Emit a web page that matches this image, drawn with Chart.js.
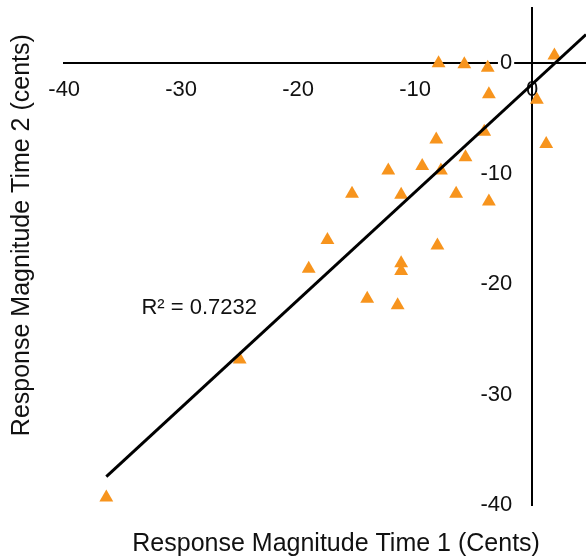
<!DOCTYPE html>
<html>
<head>
<meta charset="utf-8">
<script src="https://cdn.jsdelivr.net/npm/chart.js@4.4.1/dist/chart.umd.min.js"></script>
<style>
html,body{margin:0;padding:0;background:#fff;overflow:hidden}
#c{display:block}
</style>
</head>
<body>
<canvas id="c" width="586" height="559"></canvas>
<script>
// ---- data ----
const time1 = [-8.0, -5.8, -3.8, -3.7, 1.9, 0.4, -8.2, -4.1, 1.2, -5.7, -12.3, -9.4, -7.8,
               -15.4, -11.2, -6.5, -3.7, -17.5, -8.1, -19.1, -11.2, -11.2, -14.1, -11.5, -25.0, -36.4];
const time2 = [0.0, -0.1, -0.4, -2.8, 0.7, -3.3, -6.9, -6.2, -7.3, -8.5, -9.7, -9.3, -9.7,
               -11.8, -11.9, -11.8, -12.5, -16.0, -16.5, -18.6, -18.1, -18.8, -21.3, -21.9, -26.8, -39.3];
const trendX = [-36.4, 4.6];
const trendY = [-37.4, 2.6];
const xTicks = [-40, -30, -20, -10, 0];
const yTicks = [0, -10, -20, -30, -40];
const xTitle = 'Response Magnitude Time 1 (Cents)';
const yTitle = 'Response Magnitude Time 2 (cents)';
const r2Text = 'R² = 0.7232';
const r2Anchor = [-33.4, -22.1];

// ---- chart ----
const FONT = '"Liberation Sans", Arial, Helvetica, sans-serif';
const TEXT = '#111';
const points = time1.map((x, i) => ({x: x, y: time2[i]}));
const trend = trendX.map((x, i) => ({x: x, y: trendY[i]}));

const originAxes = {
  id: 'originAxes',
  afterLayout(chart) {
    const {x, y, x2, y2} = chart.scales;
    const px = x.getPixelForValue(0);
    const py = y.getPixelForValue(0);
    y.left = 0; y.right = px;
    x.top = py; x.bottom = chart.height;
    x2.left += 22;
    y2.bottom -= 43;
  },
  afterDatasetsDraw(chart) {
    const {ctx, scales: {x, y}} = chart;
    ctx.save();
    ctx.font = '22px ' + FONT;
    ctx.fillStyle = TEXT;
    ctx.textAlign = 'left';
    ctx.textBaseline = 'middle';
    ctx.fillText(r2Text, x.getPixelForValue(r2Anchor[0]), y.getPixelForValue(r2Anchor[1]));
    ctx.restore();
  }
};

const tickFont = {family: FONT, size: 22, lineHeight: 1.2};
const titleFont = {family: FONT, size: 25, lineHeight: 1.2};

new Chart(document.getElementById('c'), {
  type: 'scatter',
  data: {
    datasets: [
      {
        type: 'line',
        data: trend,
        showLine: true,
        borderColor: '#000',
        borderWidth: 3,
        pointRadius: 0,
        fill: false,
        order: 0
      },
      {
        data: points,
        pointStyle: 'triangle',
        pointRadius: 8,
        pointHoverRadius: 8,
        backgroundColor: '#F7941D',
        borderColor: '#F7941D',
        borderWidth: 0,
        order: 1
      }
    ]
  },
  options: {
    responsive: false,
    animation: false,
    devicePixelRatio: 1,
    layout: {autoPadding: false, padding: {left: 0, top: 8, right: 0, bottom: 0}},
    plugins: {legend: {display: false}, tooltip: {enabled: false}},
    events: [],
    scales: {
      x: {
        type: 'linear', axis: 'x', position: 'bottom', min: -40, max: 4.6, weight: 0,
        afterBuildTicks: s => { s.ticks = xTicks.map(v => ({value: v})); },
        afterFit: s => { s.height = 0; s.paddingLeft = 0; s.paddingRight = 0; },
        grid: {display: false, drawTicks: false},
        border: {display: true, color: '#000', width: 2},
        ticks: {font: tickFont, color: TEXT, padding: 13.8, maxRotation: 0, autoSkip: false}
      },
      y: {
        type: 'linear', axis: 'y', position: 'left', min: -40, max: 5, weight: 0,
        afterBuildTicks: s => { s.ticks = yTicks.map(v => ({value: v})); },
        afterFit: s => { s.width = 0; s.paddingTop = 0; s.paddingBottom = 0; },
        grid: {display: false, drawTicks: false},
        border: {display: true, color: '#000', width: 2},
        ticks: {font: tickFont, color: TEXT, padding: 20, autoSkip: false, z: 1,
                showLabelBackdrop: true, backdropColor: '#fff', backdropPadding: 2}
      },
      x2: {
        type: 'linear', axis: 'x', position: 'bottom', min: 0, max: 1, weight: 10,
        grid: {display: false, drawTicks: false},
        border: {display: false},
        ticks: {display: false},
        title: {display: true, text: xTitle, font: titleFont, color: TEXT, padding: {top: 23.7, bottom: 0}}
      },
      y2: {
        type: 'linear', axis: 'y', position: 'left', min: 0, max: 1, weight: 10,
        grid: {display: false, drawTicks: false},
        border: {display: false},
        ticks: {display: false},
        title: {display: true, text: yTitle, font: titleFont, color: TEXT, padding: {top: 7, bottom: 27.2}}
      }
    }
  },
  plugins: [originAxes]
});
</script>
</body>
</html>
